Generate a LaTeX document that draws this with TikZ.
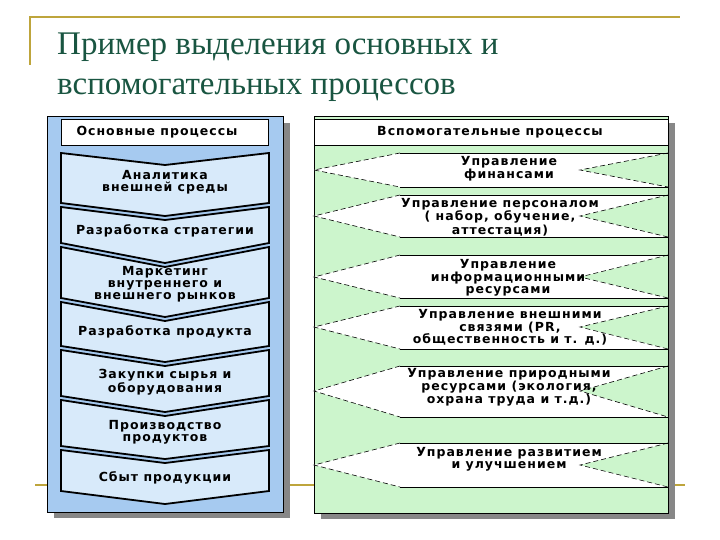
\documentclass[tikz,border=0pt]{standalone}
\usepackage{fontspec}
\setmainfont{Liberation Serif}
\newfontfamily\boxfont[LetterSpace=8]{DejaVu Sans}
\usetikzlibrary{calc}

\definecolor{gold}{RGB}{190,165,60}
\definecolor{titlegreen}{RGB}{25,85,65}
\definecolor{panelblue}{RGB}{166,202,240}
\definecolor{chevblue}{RGB}{216,234,250}
\definecolor{panelgreen}{RGB}{204,245,204}
\definecolor{shadowgray}{RGB}{135,135,135}

\begin{document}
\begin{tikzpicture}[%
x=1pt, y=-1pt,
lbl/.style={font=\boxfont\bfseries\fontsize{12.5}{12}\selectfont, align=center, inner sep=0pt},
chevron/.style={draw=black, line width=1.8pt, fill=chevblue, line join=miter},
hexbox/.style={fill=white},
edge/.style={draw=black, line width=0.6pt},
dashedge/.style={draw=black, line width=0.6pt, dashed, dash pattern=on 5pt off 3pt},
]
\useasboundingbox (0,0) rectangle (720,540);
\fill[white] (0,0) rectangle (720,540);
%% frame lines;
\draw[color=gold, line width=1.3pt] (30,65) -- (30,17) -- (680,17);
\draw[color=gold, line width=1.3pt] (35,485) -- (685,485);
%% title;
\node[anchor=base west, inner sep=0pt, color=titlegreen, font=\fontsize{33}{40}\selectfont] (title1) at (57,55) {Пример выделения основных и};
\node[anchor=base west, inner sep=0pt, color=titlegreen, font=\fontsize{33}{40}\selectfont] (title2) at (57,95) {вспомогательных процессов};

%% left panel;
\fill[shadowgray] (54,123) rectangle (290,518);
\filldraw[fill=panelblue, draw=black, line width=0.6pt] (47,116) rectangle (283,512);
\filldraw[fill=white, draw=black, line width=0.6pt] (61,119) rectangle (268,145);
\node[lbl] (mainhdr) at (157,132) {Основные процессы};
%% chevron;
\path[chevron] (61,153) -- (165,165) -- (269,153) -- (269,203) -- (165,216) -- (61,203) -- cycle;
\node[lbl] (m1) at (165,182) {Аналитика\\внешней среды};
%% chevron;
\path[chevron] (61,207) -- (165,220) -- (269,207) -- (269,243) -- (165,263) -- (61,243) -- cycle;
\node[lbl] (m2) at (165,231) {Разработка стратегии};
%% chevron;
\path[chevron] (61,247) -- (165,267) -- (269,247) -- (269,298) -- (165,317) -- (61,298) -- cycle;
\node[lbl] (m3) at (165,284) {Маркетинг\\внутреннего и\\внешнего рынков};
%% chevron;
\path[chevron] (61,302) -- (165,321) -- (269,302) -- (269,346) -- (165,362) -- (61,346) -- cycle;
\node[lbl] (m4) at (165,332) {Разработка продукта};
%% chevron;
\path[chevron] (61,350) -- (165,366) -- (269,350) -- (269,396) -- (165,412) -- (61,396) -- cycle;
\node[lbl] (m5) at (165,382) {Закупки сырья и\\оборудования};
%% chevron;
\path[chevron] (61,400) -- (165,416) -- (269,400) -- (269,446) -- (165,459) -- (61,446) -- cycle;
\node[lbl] (m6) at (165,432) {Производство\\продуктов};
%% chevron;
\path[chevron] (61,450) -- (165,463) -- (269,450) -- (269,491) -- (165,504) -- (61,491) -- cycle;
\node[lbl] (m7) at (165,478) {Сбыт продукции};

%% right panel;
\fill[shadowgray] (321,123) rectangle (675,519);
\filldraw[fill=panelgreen, draw=black, line width=0.6pt] (314,116) rectangle (668,513);
\filldraw[fill=white, draw=black, line width=0.6pt] (314,119) rectangle (668,145);
\node[lbl] (auxhdr) at (490,132) {Вспомогательные процессы};
%% hexagon;
\fill[hexbox] (314,170) -- (400,153) -- (668,153) -- (580,170) -- (668,187) -- (400,187) -- cycle;
\draw[edge] (400,153) -- (668,153) (400,187) -- (668,187);
\draw[dashedge] (400,153) -- (314,170) -- (400,187) (668,153) -- (580,170) -- (668,187);
\node[lbl] (s1) at (509,169) {Управление\\финансами};
%% hexagon;
\fill[hexbox] (314,216) -- (400,195) -- (668,195) -- (580,216) -- (668,237) -- (400,237) -- cycle;
\draw[edge] (400,195) -- (668,195) (400,237) -- (668,237);
\draw[dashedge] (400,195) -- (314,216) -- (400,237) (668,195) -- (580,216) -- (668,237);
\node[lbl] (s2) at (500,217) {Управление персоналом\\( набор, обучение,\\аттестация)};
%% hexagon;
\fill[hexbox] (314,277) -- (400,255) -- (668,255) -- (580,277) -- (668,298) -- (400,298) -- cycle;
\draw[edge] (400,255) -- (668,255) (400,298) -- (668,298);
\draw[dashedge] (400,255) -- (314,277) -- (400,298) (668,255) -- (580,277) -- (668,298);
\node[lbl] (s3) at (508,278) {Управление\\информационными\\ресурсами};
%% hexagon;
\fill[hexbox] (314,327) -- (400,306) -- (668,306) -- (580,327) -- (668,349) -- (400,349) -- cycle;
\draw[edge] (400,306) -- (668,306) (400,349) -- (668,349);
\draw[dashedge] (400,306) -- (314,327) -- (400,349) (668,306) -- (580,327) -- (668,349);
\node[lbl] (s4) at (510,327) {Управление внешними\\связями (PR,\\общественность и т. д.)};
%% hexagon;
\fill[hexbox] (314,391) -- (400,366) -- (668,366) -- (580,391) -- (668,417) -- (400,417) -- cycle;
\draw[edge] (400,366) -- (668,366) (400,417) -- (668,417);
\draw[dashedge] (400,366) -- (314,391) -- (400,417) (668,366) -- (580,391) -- (668,417);
\node[lbl] (s5) at (509,387) {Управление природными\\ресурсами (экология,\\охрана труда и т.д.)};
%% hexagon;
\fill[hexbox] (314,465) -- (400,443) -- (668,443) -- (580,465) -- (668,487) -- (400,487) -- cycle;
\draw[edge] (400,443) -- (668,443) (400,487) -- (668,487);
\draw[dashedge] (400,443) -- (314,465) -- (400,487) (668,443) -- (580,465) -- (668,487);
\node[lbl] (s6) at (509,459) {Управление развитием\\и улучшением};
\end{tikzpicture}
\end{document}
